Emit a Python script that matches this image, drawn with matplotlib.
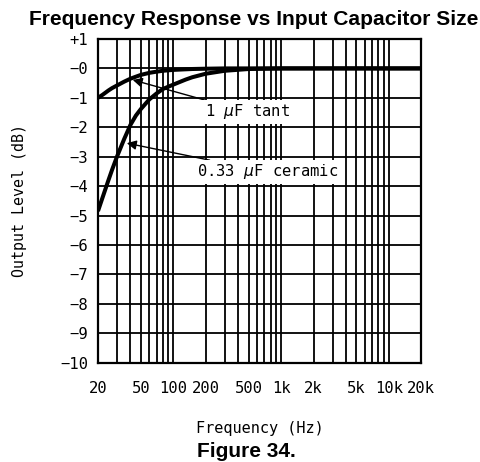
import matplotlib
matplotlib.use('Agg')
import matplotlib.pyplot as plt
from matplotlib.ticker import FixedLocator, NullFormatter

# frequency points (Hz) and output level (dB) for each input capacitor
freq = [20, 22, 25, 27, 30, 35, 40, 45, 50, 60, 70, 80, 100, 130, 150,
        200, 300, 500, 1000, 20000]
tant_1uf = [-1.0, -0.9, -0.75, -0.67, -0.58, -0.45, -0.35, -0.28, -0.22,
            -0.15, -0.11, -0.08, -0.05, -0.03, -0.02, -0.01, 0, 0, 0, 0]
ceramic_033uf = [-4.85, -4.4, -3.8, -3.45, -3.0, -2.4, -1.92, -1.6, -1.38,
                 -1.05, -0.85, -0.7, -0.55, -0.38, -0.3, -0.18, -0.08,
                 -0.02, 0, 0]

x_ticks = [20, 50, 100, 200, 500, 1000, 2000, 5000, 10000, 20000]
x_labels = ['20', '50', '100', '200', '500', '1k', '2k', '5k', '10k', '20k']
y_ticks = [1, 0, -1, -2, -3, -4, -5, -6, -7, -8, -9, -10]
y_labels = ['+1', '\u22120'] + ['\u2212%d' % abs(v) for v in y_ticks[2:]]
grid_x = [20, 30, 40, 50, 60, 70, 80, 90,
          100, 200, 300, 400, 500, 600, 700, 800, 900,
          1000, 2000, 3000, 4000, 5000, 6000, 7000, 8000, 9000,
          10000, 20000]

plt.rcParams['font.family'] = ['DejaVu Sans Mono', 'DejaVu Sans']
plt.rcParams['mathtext.fontset'] = 'dejavusans'
fig = plt.figure(figsize=(4.81, 4.62), dpi=100)
ax = fig.add_axes([0.2037, 0.215, 0.6723, 0.7006])

ax.set_xscale('log')
ax.set_xlim(20, 20000)
ax.set_ylim(-10, 1)

# grid drawn by hand so it matches the datasheet style
for gx in grid_x:
    ax.axvline(gx, color='black', lw=1.3, zorder=1)
for gy in y_ticks:
    ax.axhline(gy, color='black', lw=1.3, zorder=1)

ax.plot(freq, tant_1uf, color='black', lw=2.9, zorder=3,
        solid_capstyle='butt')
ax.plot(freq, ceramic_033uf, color='black', lw=2.9, zorder=3,
        solid_capstyle='butt')

arrow = dict(arrowstyle='-|>', color='black', lw=1.0, mutation_scale=14,
             shrinkA=0, shrinkB=0)
box = dict(boxstyle='square,pad=0.15', fc='white', ec='none')
ax.annotate('1 $\\mu$F tant', xy=(42, -0.39), xytext=(196, -1.48),
            fontsize=11.2, ha='left', va='center', bbox=box,
            arrowprops=arrow, zorder=4)
ax.annotate('0.33 $\\mu$F ceramic', xy=(37, -2.54), xytext=(165, -3.52),
            fontsize=11.2, ha='left', va='center', bbox=box,
            arrowprops=arrow, zorder=4)

ax.xaxis.set_major_locator(FixedLocator(x_ticks))
ax.xaxis.set_minor_formatter(NullFormatter())
ax.set_xticks(x_ticks)
ax.set_xticklabels(x_labels)
ax.set_yticks(y_ticks)
ax.set_yticklabels(y_labels)
ax.tick_params(which='both', length=0, labelsize=11.2)
ax.tick_params(axis='x', pad=13)
ax.tick_params(axis='y', pad=7)

for spine in ax.spines.values():
    spine.set_linewidth(1.6)

ax.set_xlabel('Frequency (Hz)', fontsize=11, labelpad=18)
ax.set_ylabel('Output Level (dB)', fontsize=10.8, labelpad=24)

fig.text(0.527, 0.957, 'Frequency Response vs Input Capacitor Size',
         family='Liberation Sans', weight='bold', fontsize=15.1,
         ha='center', va='center')
fig.text(0.513, 0.022, 'Figure 34.', family='Liberation Sans',
         weight='bold', fontsize=15, ha='center', va='center')

fig.savefig('out.png', dpi=100)
